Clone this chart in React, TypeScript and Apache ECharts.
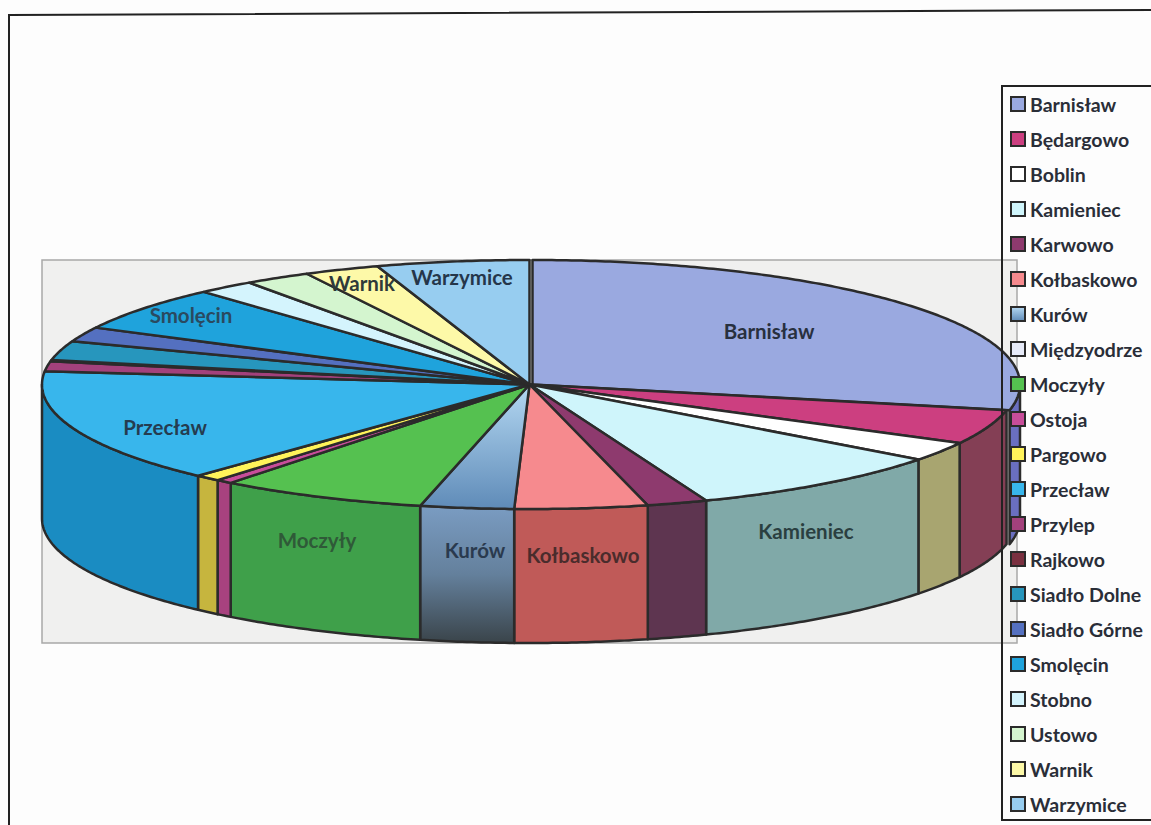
import React, { useEffect, useRef } from "react";
import * as echarts from "echarts";

const names = ["Barnisław","Będargowo","Boblin","Kamieniec","Karwowo","Kołbaskowo","Kurów","Międzyodrze","Moczyły","Ostoja","Pargowo","Przecław","Przylep","Rajkowo","Siadło Dolne","Siadło Górne","Smolęcin","Stobno","Ustowo","Warnik","Warzymice"];
const shares = [28.3,4.5,2.5,8.8,2.0,4.4,3.1,0,6.9,0.55,0.85,14.8,1.3,0.15,2.5,1.9,5.8,1.9,2.2,2.5,5.05];

const topColors: any[] = ["#9aa9e0","#cc3f80","#ffffff","#cff5fb","#8e3a6e","#f68a8e",
  { type:"linear",x:0,y:0,x2:0,y2:1,colorStops:[{offset:0,color:"#b4d8f2"},{offset:1,color:"#5f8bb8"}] },
  "#e6eaf8","#55c150","#c84d9a","#fff35a","#38b6ec","#a3417c","#7a3040","#2796bd","#5470c0","#1fa3dc","#d4f4fd","#d4f5cf","#fdf9a8","#97cdf0"];
const sideColors: any[] = ["#6a6fc0","#843f55","#a8a570","#80a9a8","#5e3550","#c05a58",
  { type:"linear",x:0,y:0,x2:0,y2:1,colorStops:[{offset:0,color:"#7a9cc2"},{offset:0.5,color:"#64809c"},{offset:1,color:"#3a444a"}] },
  "#c0c4d8","#3fa04a","#a8427f","#c6b53e","#1a8cc2","#7a3060","#5a2430","#1a7090","#3a50a0","#1585b5","#a8c8d0","#a8c8a5","#c8c488","#78a5c5"];

const labelSpots: Record<string, { x:number; y:number; color:string }> = {
  "Barnisław": { x:769, y:331, color:"#28303f" },
  "Warzymice": { x:462, y:277, color:"#25364a" },
  "Warnik": { x:362, y:283, color:"#2f3a3a" },
  "Smolęcin": { x:191, y:315, color:"#2a4a60" },
  "Przecław": { x:165, y:427, color:"#253c50" },
  "Moczyły": { x:317, y:540, color:"#2f5a38" },
  "Kurów": { x:475, y:550, color:"#2a3a4e" },
  "Kołbaskowo": { x:583, y:555, color:"#4a2c2c" },
  "Kamieniec": { x:806, y:531, color:"#2a3f40" },
};

const CX = 529.5, CY = 384.5, RX = 487.5, RY = 124.5, DEPTH = 134;
const INK = "#2b2b2b";
const FONT = "Lato";
const total = shares.reduce((a, b) => a + b, 0);

function arcPoints(t0: number, t1: number, cx: number, cy: number) {
  const pts: number[][] = [];
  const n = Math.max(2, Math.ceil((t1 - t0) / 0.01));
  for (let i = 0; i <= n; i++) {
    const t = t0 + ((t1 - t0) * i) / n;
    pts.push([cx + RX * Math.sin(t), cy - RY * Math.cos(t)]);
  }
  return pts;
}

function sliceSeries(index: number, startShare: number) {
  const name = names[index];
  return {
    type: "custom",
    name,
    coordinateSystem: "none",
    silent: true,
    data: [[shares[index], startShare]],
    renderItem: (_p: any, api: any) => {
      const v = api.value(0), s = api.value(1);
      if (!(v > 0)) return { type: "group", children: [] };
      const t0 = (s / total) * 2 * Math.PI;
      const t1 = ((s + v) / total) * 2 * Math.PI;
      const cx = index === 0 ? CX + 3 : CX;
      const children: any[] = [];
      const a = Math.max(t0, Math.PI / 2), b = Math.min(t1, (3 * Math.PI) / 2);
      if (b > a) {
        const rim = arcPoints(a, b, cx, CY);
        const low = rim.map((p) => [p[0], p[1] + DEPTH]).reverse();
        children.push({ type: "polygon", shape: { points: rim.concat(low) },
          style: { fill: sideColors[index], stroke: INK, lineWidth: 2.5, lineJoin: "round" }, z2: 1 });
      }
      children.push({ type: "polygon", shape: { points: [[cx, CY], ...arcPoints(t0, t1, cx, CY)] },
        style: { fill: topColors[index], stroke: INK, lineWidth: 2.5, lineJoin: "round" }, z2: 2 });
      const spot = labelSpots[name];
      if (spot) children.push({ type: "text", x: spot.x, y: spot.y, z2: 50,
        style: { text: name, fill: spot.color, font: `bold 20.5px ${FONT}`, align: "center", verticalAlign: "middle" } });
      return { type: "group", children };
    },
  };
}

export default function App() {
  const ref = useRef<HTMLDivElement>(null);
  useEffect(() => {
    document.body.style.margin = "0";
    document.body.style.background = "#fdfdfd";
    const chart = echarts.init(ref.current!, null, { renderer: "svg" });
    let acc = 0;
    const series = names.map((_, i) => { const s = sliceSeries(i, acc); acc += shares[i]; return s; });
    chart.setOption({
      animation: false,
      backgroundColor: "#fdfdfd",
      graphic: [
        { type: "polyline", z: -1, shape: { points: [[9, 830], [9, 15], [1155, 10]] }, style: { fill: "none", stroke: "#222", lineWidth: 2 } },
        { type: "rect", z: -1, shape: { x: 42, y: 260, width: 975, height: 383 }, style: { fill: "#f0f0ef", stroke: "#a8a8a8", lineWidth: 1.5 } },
      ],
      legend: {
        orient: "vertical", left: 1002, top: 86, z: 20,
        padding: [8, 60, 6, 8], borderColor: "#222", borderWidth: 2,
        itemWidth: 14, itemHeight: 14, itemGap: 15, icon: "rect", selectedMode: false,
        textStyle: { fontFamily: FONT, fontWeight: "bold", fontSize: 19.5, color: "#2a2e38", lineHeight: 20 },
        data: names.map((name, i) => ({ name, icon: "rect", itemStyle: { color: topColors[i], borderColor: INK, borderWidth: 2 } })),
      },
      series,
    });
    return () => chart.dispose();
  }, []);
  return <div ref={ref} style={{ position: "absolute", left: 0, top: 0, width: 1151, height: 825 }} />;
}
